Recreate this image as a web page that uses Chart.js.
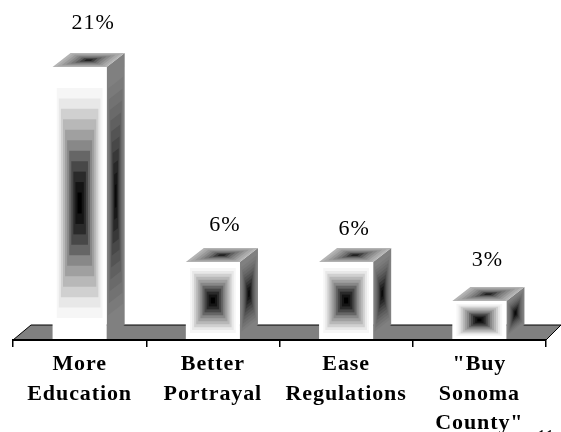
<!DOCTYPE html>
<html>
<head>
<meta charset="utf-8">
<title>Bar chart</title>
<script src="https://cdn.jsdelivr.net/npm/chart.js@4/dist/chart.umd.min.js"></script>
<style>
  body { margin: 0; background: #fff; overflow: hidden; }
  canvas { display: block; }
</style>
</head>
<body>
<canvas id="chart" width="561" height="432"></canvas>
<script>
var categories = [["More", "Education"], ["Better", "Portrayal"], ["Ease", "Regulations"], ["\"Buy", "Sonoma", "County\""]];
var percents = [21, 6, 6, 3];
var pageNumber = "11";

// ring colours for the three visible sides of a box, outside to centre
var frontRings = ["#ffffff", "#ffffff", "#f6f6f6", "#e8e8e8", "#d0d0d0", "#b8b8b8", "#a0a0a0", "#888888", "#666666", "#484848", "#2a2a2a", "#141414", "#000000"];
var sideRings = ["#808080", "#808080", "#7a7a7a", "#727272", "#6a6a6a", "#606060", "#545454", "#484848", "#383838", "#282828", "#181818", "#0a0a0a"];
var topRings = ["#b4b4b4", "#a8a8a8", "#989898", "#888888", "#777777", "#606060", "#404040", "#222222"];

// hand placement of the percent labels, relative to each box
var labelShiftX = [13.5, 12, 8, 8];
var labelLift = [44, 37, 33, 41];

var DEPTH_X = 18, DEPTH_Y = 14;
var LABEL_FONT = "22px 'Liberation Serif'";

function lerp(a, b, t){
    return [a[0] + (b[0] - a[0]) * t, a[1] + (b[1] - a[1]) * t];
}

// corners go top-left, top-right, bottom-right, bottom-left
function shadeFace(ctx, c, rings){
    for(var i = 0; i < rings.length; i++){
        var t = i / rings.length / 2;
        var left = lerp(c[0], c[3], t), left2 = lerp(c[0], c[3], 1 - t);
        var right = lerp(c[1], c[2], t), right2 = lerp(c[1], c[2], 1 - t);
        var a = lerp(left, right, t), b = lerp(left, right, 1 - t);
        var d = lerp(left2, right2, t), e = lerp(left2, right2, 1 - t);
        ctx.fillStyle = rings[i];
        ctx.beginPath();
        ctx.moveTo(a[0], a[1]);
        ctx.lineTo(b[0], b[1]);
        ctx.lineTo(e[0], e[1]);
        ctx.lineTo(d[0], d[1]);
        ctx.closePath();
        ctx.fill();
    }
}

var boxPlugin = {
    id: "boxes",
    beforeDraw: function(chart){
        //Floor behind the bars
        var ctx = chart.ctx, area = chart.chartArea;
        ctx.save();
        ctx.fillStyle = "#808080";
        ctx.strokeStyle = "#000";
        ctx.lineWidth = 1;
        ctx.beginPath();
        ctx.moveTo(area.left, area.bottom);
        ctx.lineTo(area.left + DEPTH_X, area.bottom - DEPTH_Y - 1);
        ctx.lineTo(area.right + DEPTH_X - 3, area.bottom - DEPTH_Y - 1);
        ctx.lineTo(area.right, area.bottom);
        ctx.closePath();
        ctx.fill();
        ctx.beginPath();
        ctx.moveTo(area.left, area.bottom);
        ctx.lineTo(area.left + DEPTH_X, area.bottom - DEPTH_Y - 1);
        ctx.lineTo(area.right + DEPTH_X - 3, area.bottom - DEPTH_Y - 1);
        ctx.lineTo(area.right, area.bottom);
        ctx.stroke();
        ctx.restore();
        // picked up by the tick labels
        ctx.letterSpacing = "0.9px";
    },
    afterDatasetsDraw: function(chart){
        var ctx = chart.ctx;
        ctx.save();
        chart.getDatasetMeta(0).data.forEach(function(bar, i){
            var l = bar.x - bar.width / 2, r = bar.x + bar.width / 2;
            var t = bar.y, b = bar.base - 1;
            shadeFace(ctx, [[r, t], [r + DEPTH_X, t - DEPTH_Y], [r + DEPTH_X, b - DEPTH_Y], [r, b]], sideRings);
            shadeFace(ctx, [[l + DEPTH_X, t - DEPTH_Y], [r + DEPTH_X, t - DEPTH_Y], [r, t], [l, t]], topRings);
            shadeFace(ctx, [[l, t], [r, t], [r, b], [l, b]], frontRings);

            ctx.fillStyle = "#000";
            ctx.font = LABEL_FONT;
            ctx.letterSpacing = "1px";
            ctx.textAlign = "center";
            ctx.textBaseline = "middle";
            ctx.fillText(percents[i] + "%", bar.x + labelShiftX[i], t - labelLift[i]);
        });
        // page number sits on the bottom edge
        ctx.letterSpacing = "0px";
        ctx.textAlign = "left";
        ctx.textBaseline = "alphabetic";
        ctx.font = "18px 'Liberation Serif'";
        ctx.fillText(pageNumber, 537, 443);
        ctx.restore();
    }
};

new Chart(document.getElementById("chart"), {
    type: "bar",
    data: {
        labels: categories,
        datasets: [{
            data: percents,
            backgroundColor: "transparent",
            barPercentage: 0.406,
            categoryPercentage: 1
        }]
    },
    options: {
        responsive: false,
        animation: false,
        layout: { padding: { left: 13, right: 15, top: 67, bottom: 0 } },
        plugins: { legend: { display: false }, tooltip: { enabled: false } },
        scales: {
            y: { display: false, min: 0, max: 21 },
            x: {
                afterFit: function(scale){ scale.height = 92; },
                border: { color: "#000", width: 2 },
                grid: { drawOnChartArea: false, color: "#000", lineWidth: 1.5, tickLength: 7 },
                ticks: {
                    color: "#000",
                    padding: 3,
                    maxRotation: 0,
                    autoSkip: false,
                    font: { family: "'Liberation Serif'", size: 22, weight: "bold", lineHeight: 1.34 }
                }
            }
        }
    },
    plugins: [boxPlugin]
});
</script>
</body>
</html>
